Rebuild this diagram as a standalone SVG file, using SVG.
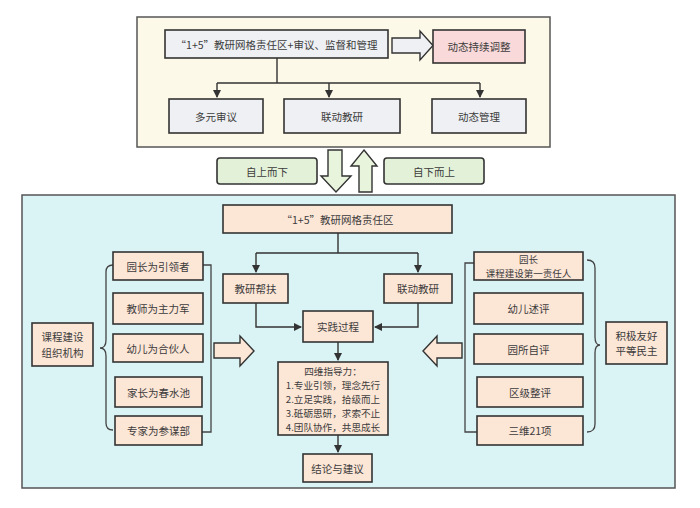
<svg xmlns="http://www.w3.org/2000/svg" width="700" height="508" viewBox="0 0 700 508">
<style>
text{font-family:"Noto Sans CJK SC","Noto Sans",sans-serif;font-size:10.5px;fill:#3c3c3c;text-anchor:middle;dominant-baseline:central}
.sm{font-size:9.6px}
.xs{font-size:9.5px}
.box{stroke:#333;stroke-width:1.6}
.peach{fill:#fce6d6}
.gray{fill:#eef0f3}
.green{fill:#e3f1d9}
.conn{fill:none;stroke:#333;stroke-width:1.4}
.brace{fill:none;stroke:#444;stroke-width:1.3}
</style>
<defs>
<marker id="ah" markerWidth="8" markerHeight="8" refX="7" refY="4" orient="auto" markerUnits="userSpaceOnUse">
<path d="M0,0 L8,4 L0,8 Z" fill="#333"/>
</marker>
</defs>
<rect width="700" height="508" fill="#ffffff"/>
<g id="top-container"><rect x="137" y="17" width="413" height="130" fill="#fdf9e8" stroke="#555" stroke-width="1.5"/></g>
<g id="bottom-container"><rect x="22" y="195" width="653" height="293" fill="#daf3f5" stroke="#555" stroke-width="1.5"/></g>

<g id="connectors">
<path class="conn" d="M277,58 V83 M217,83 H480 M217,83 V97" marker-end="url(#ah)"/>
<path class="conn" d="M329,83 V97" marker-end="url(#ah)"/>
<path class="conn" d="M480,83 V97" marker-end="url(#ah)"/>
<path class="conn" d="M338,233 V253 M256,253 H418 M256,253 V272" marker-end="url(#ah)"/>
<path class="conn" d="M418,253 V272" marker-end="url(#ah)"/>
<path class="conn" d="M256,303 V327 H301" marker-end="url(#ah)"/>
<path class="conn" d="M418,303 V327 H375" marker-end="url(#ah)"/>
<path class="conn" d="M338,342 V360" marker-end="url(#ah)"/>
<path class="conn" d="M338,435 V452" marker-end="url(#ah)"/>
<polyline class="brace" points="203,265 211,265 211,432 202,432"/>
<polyline class="brace" points="474,263 465,263 465,432 477,432"/>
<path class="brace" d="M113,265 Q106,265 106,272 V340 Q106,348 100,348 Q106,348 106,356 V423 Q106,430 113,430"/>
<path class="brace" d="M587,260 Q595,260 595,268 V337 Q595,345 600,345 Q595,345 595,353 V424 Q595,432 587,432"/>
<polygon points="392,38 420,38 420,31 433,45.5 420,60 420,53 392,53" fill="#eef0f3" stroke="#333" stroke-width="1.4"/>
<polygon points="328,150 342,150 342,176 351,176 336,192 321,176 328,176" fill="#e8f4dc" stroke="#333" stroke-width="1.4"/>
<polygon points="364,150 377,166 372,166 372,192 359,192 359,166 351,166" fill="#e8f4dc" stroke="#333" stroke-width="1.4"/>
<polygon points="214,343 240,343 240,336 254,351 240,366 240,358 214,358" fill="#fce6d6" stroke="#333" stroke-width="1.4"/>
<polygon points="462,343 437,343 437,336 423,351 437,366 437,358 462,358" fill="#fce6d6" stroke="#333" stroke-width="1.4"/>
</g>

<g id="n-main"><rect class="box gray" x="165" y="30" width="223" height="28"/><text x="276.5" y="44">“1+5”教研网格责任区+审议、监督和管理</text></g>
<g id="n-adjust"><rect class="box" fill="#f9d9d9" x="433" y="30" width="92" height="33" stroke-width="1"/><text x="479" y="46.5">动态持续调整</text></g>
<g id="n-review"><rect class="box gray" x="169" y="99" width="94" height="34"/><text x="216" y="116">多元审议</text></g>
<g id="n-joint1"><rect class="box gray" x="284" y="99" width="116" height="34"/><text x="342" y="116">联动教研</text></g>
<g id="n-dynmgmt"><rect class="box gray" x="432" y="99" width="94" height="34"/><text x="479" y="116">动态管理</text></g>

<g id="n-topdown"><rect class="box green" x="217" y="158" width="100" height="26" rx="3" stroke-width="1.2"/><text x="267" y="171">自上而下</text></g>
<g id="n-bottomup"><rect class="box green" x="384" y="158" width="100" height="26" rx="3" stroke-width="1.2"/><text x="434" y="171">自下而上</text></g>

<g id="n-grid"><rect class="box peach" x="223" y="205" width="229" height="28"/><text x="337.5" y="219">“1+5”教研网格责任区</text></g>
<g id="n-help"><rect class="box peach" x="223" y="274" width="65" height="29"/><text x="255.5" y="288.5">教研帮扶</text></g>
<g id="n-joint2"><rect class="box peach" x="384" y="274" width="68" height="29"/><text x="418" y="288.5">联动教研</text></g>
<g id="n-practice"><rect class="box peach" x="303" y="311" width="70" height="31"/><text x="338" y="326.5">实践过程</text></g>
<g id="n-four"><rect class="box peach" x="278" y="362" width="110" height="73"/>
<text class="sm" x="333" y="370.5">四维指导力：</text>
<text class="sm" x="333" y="384.5">1.专业引领，理念先行</text>
<text class="sm" x="333" y="398.5">2.立足实践，拾级而上</text>
<text class="sm" x="333" y="412.5">3.砥砺思研，求索不止</text>
<text class="sm" x="333" y="426.5">4.团队协作，共思成长</text></g>
<g id="n-conclusion"><rect class="box peach" x="303" y="454" width="69" height="28"/><text x="337.5" y="468">结论与建议</text></g>

<g id="n-org"><rect class="box peach" x="32" y="323" width="61" height="43" stroke-width="1.2"/><text x="62.5" y="336.8">课程建设</text><text x="62.5" y="352.2">组织机构</text></g>
<g id="n-l1"><rect class="box peach" x="113" y="252" width="90" height="28"/><text x="158" y="266">园长为引领者</text></g>
<g id="n-l2"><rect class="box peach" x="113" y="293" width="90" height="31"/><text x="158" y="308.5">教师为主力军</text></g>
<g id="n-l3"><rect class="box peach" x="113" y="334" width="90" height="28"/><text x="158" y="348">幼儿为合伙人</text></g>
<g id="n-l4"><rect class="box peach" x="115" y="377" width="87" height="30"/><text x="158.5" y="392">家长为春水池</text></g>
<g id="n-l5"><rect class="box peach" x="115" y="416" width="87" height="29"/><text x="158.5" y="430.5">专家为参谋部</text></g>

<g id="n-r1"><rect class="box peach" x="474" y="252" width="109" height="28"/><text class="xs" x="528.5" y="259.1">园长</text><text class="xs" x="528.5" y="272.9">课程建设第一责任人</text></g>
<g id="n-r2"><rect class="box peach" x="474" y="293" width="109" height="31"/><text x="528.5" y="308.5">幼儿述评</text></g>
<g id="n-r3"><rect class="box peach" x="474" y="334" width="109" height="30"/><text x="528.5" y="349">园所自评</text></g>
<g id="n-r4"><rect class="box peach" x="477" y="377" width="106" height="30"/><text x="530" y="392">区级整评</text></g>
<g id="n-r5"><rect class="box peach" x="477" y="416" width="106" height="29"/><text x="530" y="430.5">三维21项</text></g>
<g id="n-value"><rect class="box peach" x="606" y="322" width="61" height="42" stroke-width="1.2"/><text x="636.5" y="335.3">积极友好</text><text x="636.5" y="350.7">平等民主</text></g>
</svg>
